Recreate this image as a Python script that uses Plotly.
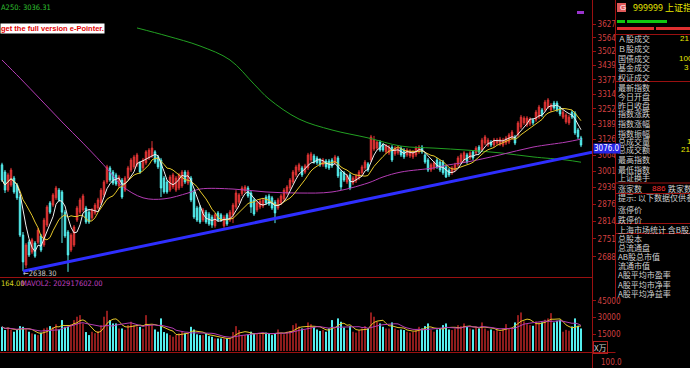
import math
import pandas as pd
import plotly.graph_objects as go

# ---------------- data ----------------
OPEN = [3026,2998,2929,2948,2975,2948,2903,2764,2659,2739,
        2704,2736,2739,2761,2729,2800,2881,2873,2900,2929,
        2922,2847,2775,2711,2729,2818,2847,2855,2862,2847,
        2826,2844,2862,2881,2911,2960,3014,2998,2987,2945,
        2967,2929,2975,3006,3018,3026,3034,3014,3034,3053,
        3061,3077,3057,3045,2975,2960,2929,2941,2929,2937,
        2945,2998,2956,2975,2922,2862,2866,2818,2847,2840,
        2829,2797,2844,2837,2797,2837,2818,2837,2866,2884,
        2915,2926,2937,2918,2892,2855,2866,2870,2903,2907,
        2900,2884,2862,2881,2896,2918,2937,2960,2987,3006,
        3014,2998,3014,3045,3061,3053,3045,3026,3041,3041,
        3045,3034,3053,2998,2995,2960,2987,2956,2964,2975,
        2995,3014,3030,3045,3088,3092,3116,3104,3077,3073,
        3096,3069,3073,3092,3084,3065,3061,3057,3065,3077,
        3096,3065,3045,3006,3014,3045,3037,3037,3018,3006,
        2995,3006,3026,3037,3045,3065,3053,3077,3073,3096,
        3084,3112,3104,3116,3104,3112,3108,3104,3112,3116,
        3133,3137,3145,3177,3194,3185,3190,3206,3206,3218,
        3248,3248,3260,3248,3277,3277,3256,3218,3198,3194,
        3239,3235,3165,3133]
CLOSE = [2967,2929,2987,3006,2922,2900,2764,2670,2729,2694,
         2747,2690,2782,2711,2818,2866,2847,2911,2937,2892,
         2847,2761,2694,2764,2793,2862,2892,2907,2811,2811,
         2855,2873,2892,2929,2960,3018,2967,2956,2952,2979,
         2903,2975,3014,3045,3057,3065,2998,3045,3077,3084,
         3092,3037,3018,2937,2922,2922,2979,2987,2975,2987,
         2998,2960,2998,2892,2829,2818,2811,2855,2811,2804,
         2800,2837,2818,2818,2829,2804,2847,2873,2918,2911,
         2937,2941,2907,2866,2840,2881,2888,2892,2881,2877,
         2862,2844,2892,2907,2929,2941,2967,2998,3018,3026,
         2987,3022,3065,3069,3037,3034,3026,3045,3018,3014,
         3022,3057,2983,2941,2967,2983,2937,2975,2983,2998,
         3018,3037,3006,3137,3124,3116,3084,3084,3100,3096,
         3045,3092,3092,3065,3057,3084,3080,3077,3092,3096,
         3077,3037,3006,3026,3034,3018,3006,2995,2979,2987,
         3014,3026,3053,3065,3073,3037,3073,3053,3092,3077,
         3124,3137,3124,3104,3124,3124,3128,3124,3133,3145,
         3157,3112,3194,3218,3214,3214,3210,3194,3239,3260,
         3227,3281,3290,3269,3256,3248,3231,3239,3227,3218,
         3218,3153,3137,3104]
HIGH = [3034,3006,2995,3014,2983,2956,2911,2775,2736,2747,
        2754,2743,2790,2768,2826,2873,2888,2918,2945,2937,
        2929,2855,2782,2771,2800,2870,2900,2915,2870,2855,
        2862,2881,2900,2937,2967,3026,3022,3006,2995,2987,
        2975,2983,3022,3053,3065,3073,3041,3053,3084,3092,
        3120,3084,3065,3053,2983,2967,2987,2995,2983,2995,
        3006,3006,3006,2983,2929,2870,2873,2862,2855,2847,
        2837,2844,2851,2844,2837,2844,2855,2881,2929,2918,
        2945,2948,2945,2926,2900,2888,2896,2900,2911,2915,
        2907,2892,2900,2915,2937,2948,2975,3006,3026,3034,
        3022,3030,3073,3077,3069,3061,3053,3053,3049,3049,
        3053,3065,3061,3006,3002,2991,2995,2983,2991,3006,
        3026,3045,3037,3145,3141,3124,3124,3112,3108,3104,
        3104,3100,3100,3100,3092,3092,3088,3084,3100,3104,
        3104,3073,3053,3034,3041,3053,3045,3045,3026,3014,
        3022,3034,3061,3073,3080,3073,3080,3084,3100,3104,
        3133,3145,3133,3124,3133,3133,3137,3133,3141,3153,
        3165,3145,3202,3227,3222,3222,3218,3214,3248,3269,
        3256,3290,3298,3277,3286,3286,3264,3248,3235,3227,
        3248,3243,3173,3141]
LOW = [2960,2918,2922,2941,2915,2892,2757,2638.3,2649,2687,
       2697,2684,2732,2704,2722,2793,2840,2866,2892,2884,
       2736,2754,2636,2704,2722,2811,2840,2847,2804,2804,
       2818,2837,2855,2873,2903,2952,2960,2948,2945,2937,
       2896,2922,2967,2998,3010,3018,2991,3006,3026,3045,
       3053,3030,3010,2903,2915,2915,2922,2933,2922,2929,
       2937,2952,2948,2884,2822,2811,2804,2811,2804,2797,
       2790,2790,2811,2811,2790,2797,2811,2807,2858,2877,
       2907,2918,2900,2844,2833,2847,2858,2862,2873,2870,
       2855,2807,2855,2873,2888,2911,2929,2952,2979,2998,
       2979,2991,3006,3037,3030,3026,3018,3018,3010,3006,
       3014,3026,2975,2929,2960,2952,2929,2948,2956,2967,
       2987,3006,2998,3037,3080,3084,3077,3077,3069,3065,
       3037,3061,3065,3057,3049,3057,3053,3049,3057,3069,
       3069,3030,2998,2998,3006,3010,2998,2987,2975,2979,
       2987,2998,3018,3030,3037,3030,3045,3045,3065,3069,
       3077,3104,3096,3096,3096,3104,3100,3096,3104,3108,
       3124,3104,3137,3169,3185,3177,3181,3185,3198,3210,
       3218,3239,3252,3239,3248,3239,3222,3210,3190,3185,
       3210,3145,3128,3096]
VOLUME = [21700,18800,21000,19000,17300,19000,22300,21700,19500,17300,
          15800,15000,14300,16500,20200,21000,22300,21500,24000,19300,
          27700,21700,21700,24000,27700,30700,32100,24700,17000,14300,
          17300,16000,18000,23200,30700,36000,27700,24700,24700,20200,
          20200,19000,23200,26200,23200,22000,21700,20000,32100,23200,
          23200,19300,17300,29200,17000,15800,14300,12800,14300,15800,
          17300,15800,16500,21700,19300,15000,14300,14300,15800,13400,
          12800,11300,11300,11300,11300,11300,11300,17000,22300,18800,
          14300,14300,15000,17300,16000,15800,15000,15800,16500,15800,
          14300,16000,19300,15800,15000,17300,18000,23200,24700,22000,
          20200,19300,25600,24000,21700,19300,18000,18800,17300,20200,
          27700,20200,29200,26200,21000,18800,22300,17300,16500,18800,
          20200,22300,20200,34500,30700,26200,24700,21700,20200,20200,
          25600,20200,18800,19300,18800,17300,16500,17300,19300,21700,
          20200,22300,24700,18800,17300,19300,20200,23200,24700,19300,
          18800,20200,23200,22300,24700,21700,20200,19300,21700,20200,
          25600,20200,18200,19300,18200,19300,17300,20200,24100,20200,
          21000,25600,32100,34500,26500,24100,23200,22600,26500,25600,
          25600,28000,29200,33900,25600,27100,28000,17300,19000,18200,
          22000,29200,22600,20200]

# long moving averages read as knots from the picture
MA60_IDX = [0, 6, 13, 20, 27, 33, 36, 40, 47, 54, 62, 66, 77, 88, 99, 110,
            122, 127, 133, 144, 149, 155, 166, 177, 188, 193]
MA60_VAL = [3464, 3384, 3290, 3198, 3112, 3037, 2998, 2945, 2900, 2896, 2918,
            2933, 2933, 2922, 2918, 2922, 2956, 2979, 2998, 3014, 3026, 3037,
            3065, 3096, 3116, 3128]
MA250_IDX = [45, 55, 66, 76, 84, 89, 99, 110, 122, 133, 144, 155, 166, 177, 188, 193]
MA250_VAL = [3610, 3573, 3527, 3464, 3358, 3294, 3210, 3165, 3133, 3100, 3092,
             3084, 3073, 3057, 3045, 3036.31]

TREND_IDX = [7, 196.67]
TREND_VAL = [2638.30, 3076.0]
LOW_MARK = 2638.30

PRICE_TICKS = [3627, 3564, 3502, 3439, 3377, 3314, 3252, 3189, 3126, 3064,
               3001, 2939, 2876, 2814, 2751, 2688]
VOL_TICKS = [15000, 30000, 45000]

PANEL_LABELS = ["Ａ股成交", "Ｂ股成交", "国债成交", "基金成交", "权证成交",
                "最新指数", "今日开盘", "昨日收盘", "指数涨跌", "指数涨幅",
                "指数振幅", "总成交量", "总成交额", "最高指数", "最低指数",
                "上证换手", "涨家数", "提示: 以下数据仅供参考", "涨停价", "跌停价",
                "上海市场统计 含B股及基金", "总股本", "总流通盘", "AB股总市值",
                "流通市值", "A股平均市盈率", "A股平均市净率", "A股平均净益率"]
PANEL_Y = [39, 49, 58, 68, 77, 87, 96, 105, 114, 123, 133, 141, 150, 159, 169,
           177, 188, 198, 209, 219, 229, 238, 247, 256, 265, 274, 284, 293]
PANEL_VALUES = [("21", 679, 39), ("100", 678, 58), ("3", 683, 68),
                ("1", 686, 141), ("21", 680, 150)]

# ---------------- helpers ----------------
W, H = 690, 368
def px(x): return x / W
def py(y): return 1 - y / H

N = len(CLOSE)
IDX = list(range(N))
XR = [-2 / 3, (592 - 2) / 3]

cs = pd.Series(CLOSE, dtype=float)
MA5 = cs.rolling(5, min_periods=1).mean()
MA10 = cs.rolling(10, min_periods=1).mean()
vs = pd.Series(VOLUME, dtype=float)
MAVOL1 = vs.rolling(5, min_periods=1).mean()
MAVOL2 = vs.rolling(10, min_periods=1).mean()

RED = "#E03434"
CYAN = "#54EEEE"
YEL = "#E6C82A"
MAG = "#B43CB4"
GRN = "#22A022"
AXRED = "#9A1010"
LBLRED = "#D24040"

fig = go.Figure()

fig.add_trace(go.Candlestick(
    x=IDX, open=OPEN, high=HIGH, low=LOW, close=CLOSE,
    increasing=dict(line=dict(color=RED, width=1), fillcolor=RED),
    decreasing=dict(line=dict(color=CYAN, width=1), fillcolor=CYAN),
    whiskerwidth=0, xaxis="x", yaxis="y", hoverinfo="skip"))

fig.add_trace(go.Scatter(x=MA250_IDX, y=MA250_VAL, mode="lines",
                         line=dict(color=GRN, width=1, shape="spline"),
                         xaxis="x", yaxis="y", hoverinfo="skip"))
fig.add_trace(go.Scatter(x=MA60_IDX, y=MA60_VAL, mode="lines",
                         line=dict(color=MAG, width=1, shape="spline"),
                         xaxis="x", yaxis="y", hoverinfo="skip"))
fig.add_trace(go.Scatter(x=IDX, y=MA10, mode="lines",
                         line=dict(color=YEL, width=1),
                         xaxis="x", yaxis="y", hoverinfo="skip"))
fig.add_trace(go.Scatter(x=IDX, y=MA5, mode="lines",
                         line=dict(color="#EEEEEE", width=1),
                         xaxis="x", yaxis="y", hoverinfo="skip"))
fig.add_trace(go.Scatter(x=TREND_IDX, y=TREND_VAL, mode="lines",
                         line=dict(color="#2E2EFF", width=3),
                         xaxis="x", yaxis="y", hoverinfo="skip", cliponaxis=True))

vol_colors = ["#8E1C1C" if c >= o else CYAN for o, c in zip(OPEN, CLOSE)]
fig.add_trace(go.Bar(x=IDX, y=VOLUME, marker=dict(color=vol_colors, line=dict(width=0)),
                     width=0.67, xaxis="x2", yaxis="y2", hoverinfo="skip"))
fig.add_trace(go.Scatter(x=IDX, y=MAVOL1, mode="lines", line=dict(color=YEL, width=1),
                         xaxis="x2", yaxis="y2", hoverinfo="skip"))
fig.add_trace(go.Scatter(x=IDX, y=MAVOL2, mode="lines", line=dict(color=MAG, width=1),
                         xaxis="x2", yaxis="y2", hoverinfo="skip"))

NARROW = "Liberation Sans Narrow, DejaVu Sans Condensed, Arial Narrow, sans-serif"
TICKFONT = dict(family=NARROW, size=8, color=LBLRED)

fig.update_layout(
    width=W, height=H, margin=dict(l=0, r=0, t=0, b=0),
    paper_bgcolor="black", plot_bgcolor="black", showlegend=False,
    xaxis=dict(domain=[0, px(592)], range=XR, visible=False,
               rangeslider=dict(visible=False), anchor="y"),
    yaxis=dict(domain=[py(277), py(5)], type="log",
               range=[3.418068, 3.570354], side="right", anchor="x",
               tickvals=PRICE_TICKS, ticktext=[str(v) for v in PRICE_TICKS],
               showgrid=False, zeroline=False, showline=True, linecolor=AXRED,
               ticks="outside", ticklen=3, tickcolor=AXRED, tickfont=TICKFONT),
    xaxis2=dict(domain=[0, px(592)], range=XR, visible=False, anchor="y2"),
    yaxis2=dict(domain=[py(351.1), py(278)], range=[0, 65268], side="right",
                anchor="x2", tickvals=VOL_TICKS, ticktext=[str(v) for v in VOL_TICKS],
                showgrid=False, zeroline=False, showline=True, linecolor=AXRED,
                ticks="outside", ticklen=3, tickcolor=AXRED, tickfont=TICKFONT),
)

shapes = []
def line(x0, y0, x1, y1, color=AXRED, width=1):
    shapes.append(dict(type="line", xref="paper", yref="paper",
                       x0=px(x0), y0=py(y0), x1=px(x1), y1=py(y1),
                       line=dict(color=color, width=width)))
def rect(x0, y0, x1, y1, fill):
    shapes.append(dict(type="rect", xref="paper", yref="paper",
                       x0=px(x0), y0=py(y0), x1=px(x1), y1=py(y1),
                       fillcolor=fill, line=dict(width=0)))

line(592.5, 0, 592.5, 368)
line(615.5, 0, 615.5, 300)
line(0, 277.5, 592.5, 277.5)
line(0, 352.5, 615.5, 352.5)
for yy in [34.5, 81.5, 183, 193.5, 223.5, 233.5]:
    line(615.5, yy, 690, yy)
rect(617, 20, 625, 23, "#10C810")
rect(627, 20, 667, 23, "#10C810")
rect(617, 27, 654, 30, "#E03030")
rect(656, 27, 690, 30, "#E03030")
rect(617, 3, 626, 12, "#E05A5A")
rect(577, 11, 584, 14, "#9933CC")
fig.update_layout(shapes=shapes)

ann = []
def text(t, x, y, color, size=8, family="Liberation Sans, Arial, sans-serif", **kw):
    d = dict(text=t, xref="paper", yref="paper", x=px(x), y=py(y),
             xanchor="left", yanchor="middle", showarrow=False,
             font=dict(color=color, size=size, family=family), borderpad=0)
    d.update(kw)
    ann.append(d)

CJK = "Noto Sans CJK SC, sans-serif"
text("A250: 3036.31", 0, 7, "#30C030", size=7.5, family=NARROW)
text("<b>get the full version e-Pointer.</b>", 0, 28.5, "#E00000", size=7.5,
     bgcolor="#FFFFFF")
text("164.00", 0, 283, "#D8D820", size=7.5, family=NARROW)
text("MAVOL2: 202917602.00", 20, 283, "#C040C0", size=7.5, family=NARROW)
text("G", 619, 7.5, "#FFFFFF", size=8)
text("999999 上证指数", 632, 8, "#E8E800", size=9, family=CJK)

for lab, yy in zip(PANEL_LABELS, PANEL_Y):
    text(lab, 617, yy, "#D0D0D0", size=8, family=CJK)
for v, xx, yy in PANEL_VALUES:
    text(v, xx, yy, "#E8E800", size=8)
text("886", 651, 188, "#FF3030", size=8)
text("跌家数", 667, 188, "#D0D0D0", size=8, family=CJK)

ann.append(dict(text="X万", xref="paper", yref="paper", x=px(593), y=py(347.5),
                xanchor="left", yanchor="middle", showarrow=False,
                font=dict(color="#D0D0D0", size=8, family=CJK),
                bordercolor="#B02020", borderwidth=1, borderpad=0))
text("100.0", 600, 362, LBLRED, size=8, family=NARROW)

ann.append(dict(text="3076.0", xref="paper", yref="y", x=px(593),
                y=math.log10(TREND_VAL[-1]), xanchor="left", yanchor="middle",
                showarrow=False, bgcolor="#2626E6", borderpad=0, yshift=4,
                font=dict(color="#FFFFFF", size=8, family=NARROW)))
ann.append(dict(text="←2638.30", xref="x", yref="y", x=6.2, y=math.log10(LOW_MARK),
                xanchor="left", yanchor="middle", showarrow=False, yshift=-2,
                font=dict(color="#C8C8C8", size=7.5, family=NARROW)))
fig.update_layout(annotations=ann)

fig.write_html("out.html", config={"displayModeBar": False},
               post_script="document.body.style.margin='0';document.body.style.background='black';")
